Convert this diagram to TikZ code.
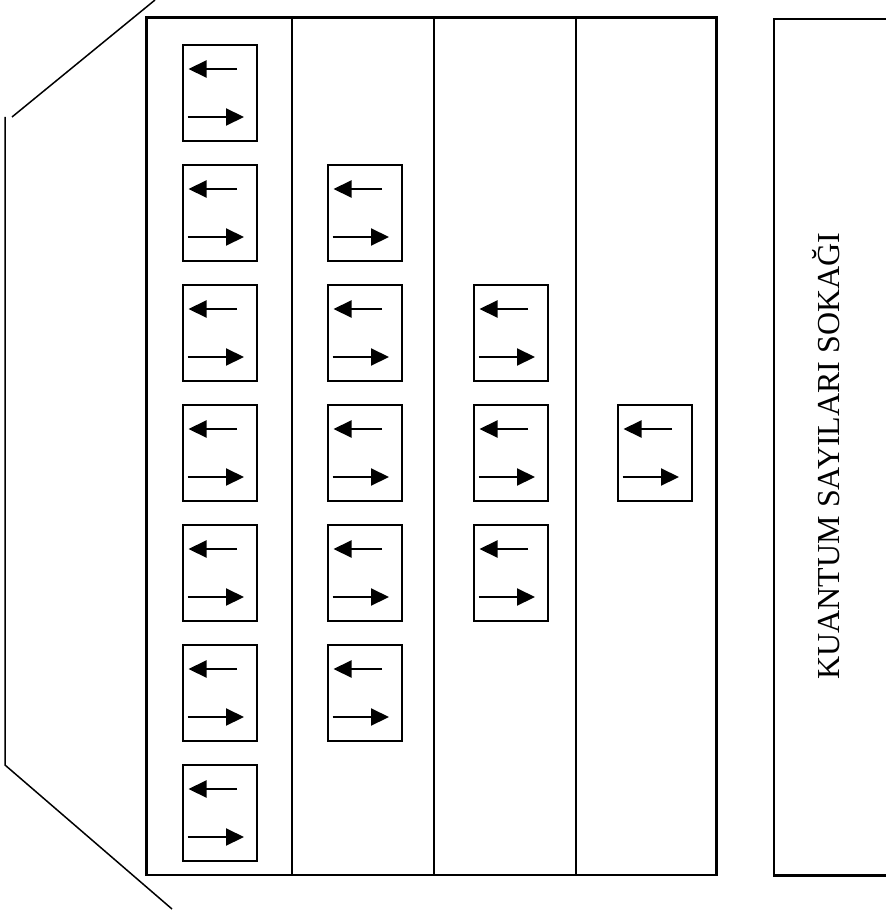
\documentclass[tikz,border=0pt]{standalone}
\usepackage{fontspec}
\setmainfont{Liberation Serif}
\usetikzlibrary{arrows.meta,calc}
\tikzset{
  frame/.style={line width=2.2pt},
  outline/.style={line width=1.5pt},
  cell/.style={draw, line width=1.7pt, rectangle, minimum width=74pt, minimum height=96pt, inner sep=0pt, anchor=north west},
  spin/.style={line width=2.1pt, -{Triangle[length=18pt,width=17pt]}}
}
% one orbital box with a spin-down and a spin-up arrow
\newcommand{\orbital}[3]{%
  \node[cell] (#1) at (#2,#3) {};
  \draw[spin] ($(#1.north west)+(55,25)$) -- ($(#1.north west)+(6.5,25)$);
  \draw[spin] ($(#1.north west)+(5.5,73)$) -- ($(#1.north west)+(62,73)$);
}
\begin{document}
\begin{tikzpicture}[x=1pt,y=-1pt]
\useasboundingbox (0,0) rectangle (885,917);

% building outline on the left
\draw[outline] (155,0) -- (12,117);
\draw[outline] (5,117) -- (5,765) -- (172,909);

% main block with four columns
\draw[frame] (146.5,17.5) rectangle (716.5,875);
\draw[frame] (292,17.5) -- (292,875);
\draw[frame] (434,17.5) -- (434,875);
\draw[frame] (576,17.5) -- (576,875);

% street
\draw[frame] (886,19) -- (774,19) -- (774,875.5) -- (886,875.5);
\node[rotate=90, font=\fontsize{32}{32}\selectfont] (street) at (826,456) {KUANTUM SAYILARI SOKAĞI};

% column 1
\orbital{a1}{182}{44}
\orbital{a2}{182}{164}
\orbital{a3}{182}{284}
\orbital{a4}{182}{404}
\orbital{a5}{182}{524}
\orbital{a6}{182}{644}
\orbital{a7}{182}{764}
% column 2
\orbital{b1}{327}{164}
\orbital{b2}{327}{284}
\orbital{b3}{327}{404}
\orbital{b4}{327}{524}
\orbital{b5}{327}{644}
% column 3
\orbital{c1}{473}{284}
\orbital{c2}{473}{404}
\orbital{c3}{473}{524}
% column 4
\orbital{d1}{617}{404}
\end{tikzpicture}
\end{document}
